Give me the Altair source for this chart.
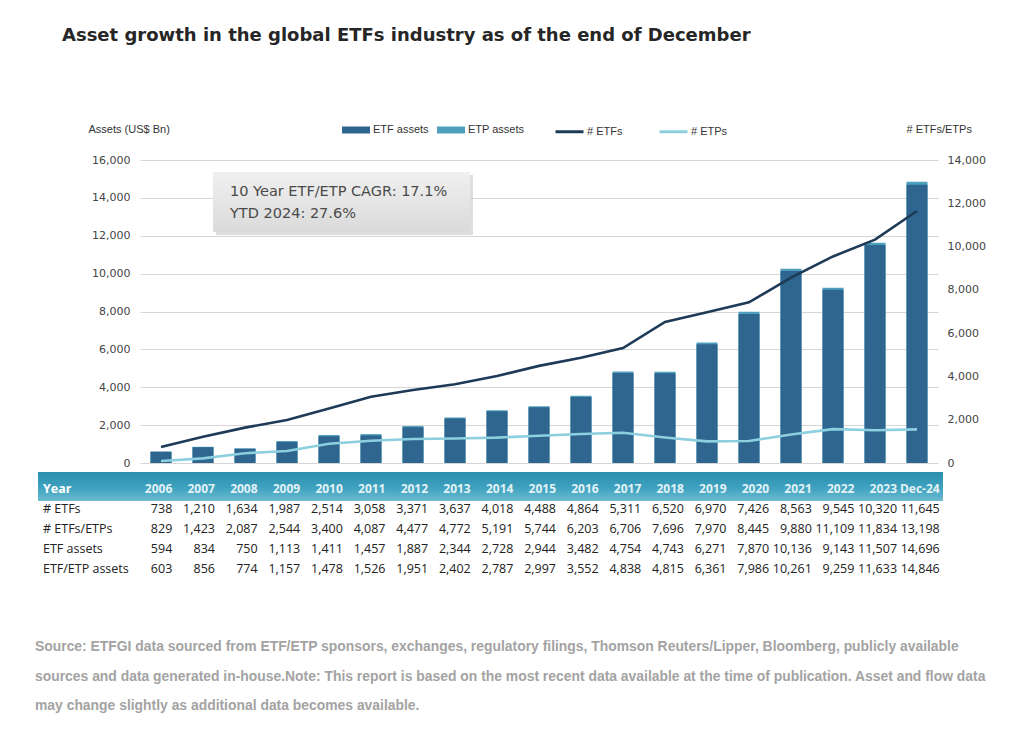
import altair as alt
import pandas as pd

years = ["2006", "2007", "2008", "2009", "2010", "2011", "2012", "2013", "2014", "2015",
         "2016", "2017", "2018", "2019", "2020", "2021", "2022", "2023", "Dec-24"]
n_etfs = [738, 1210, 1634, 1987, 2514, 3058, 3371, 3637, 4018, 4488, 4864, 5311, 6520,
          6970, 7426, 8563, 9545, 10320, 11645]
n_etfs_etps = [829, 1423, 2087, 2544, 3400, 4087, 4477, 4772, 5191, 5744, 6203, 6706,
               7696, 7970, 8445, 9880, 11109, 11834, 13198]
n_etps = [91, 213, 453, 557, 886, 1029, 1106, 1135, 1173, 1256, 1339, 1395, 1176, 1000,
          1019, 1317, 1564, 1514, 1553]
etf_assets = [594, 834, 750, 1113, 1411, 1457, 1887, 2344, 2728, 2944, 3482, 4754, 4743,
              6271, 7870, 10136, 9143, 11507, 14696]
etf_etp_assets = [603, 856, 774, 1157, 1478, 1526, 1951, 2402, 2787, 2997, 3552, 4838,
                  4815, 6361, 7986, 10261, 9259, 11633, 14846]

row_labels = ["Year", "# ETFs", "# ETFs/ETPs", "ETF assets", "ETF/ETP assets"]
annot_lines = ["10 Year ETF/ETP CAGR: 17.1%", "YTD 2024: 27.6%"]
footer = [
    "Source: ETFGI data sourced from ETF/ETP sponsors, exchanges, regulatory filings, Thomson Reuters/Lipper, Bloomberg, publicly available",
    "sources and data generated in-house.Note: This report is based on the most recent data available at the time of publication. Asset and flow data",
    "may change slightly as additional data becomes available.",
]

W, H = 798, 303
TW = 810
NARROW = "Liberation Sans Narrow, Liberation Sans, Arial"
SANS = "DejaVu Sans, Verdana"
TABLE_FONT = "Open Sans, Noto Sans, DejaVu Sans"

# ETP assets bar = full ETF/ETP total (drawn behind), ETF assets bar drawn in front
assets = pd.DataFrame({
    "Year": years * 2,
    "Series": ["ETP assets"] * len(years) + ["ETF assets"] * len(years),
    "Value": etf_etp_assets + etf_assets,
})
counts = pd.DataFrame({
    "Year": years * 2,
    "Series": ["# ETFs"] * len(years) + ["# ETPs"] * len(years),
    "Count": n_etfs + n_etps,
})

xscale = alt.Scale(domain=years, paddingInner=0.5, paddingOuter=0.25)
xenc = alt.X("Year:N", sort=years, scale=xscale, axis=None)

bar_symbol = "M-1,-0.25H1V0.25H-1Z"

color_scale = alt.Scale(domain=["ETF assets", "ETP assets"], range=["#2f668f", "#4c9fbd"])
bar_legend = alt.Legend(orient="none", legendX=202, legendY=-44, direction="horizontal",
                        title=None, symbolType=bar_symbol, symbolSize=784,
                        symbolStrokeWidth=0, labelFont=NARROW, labelFontSize=11,
                        labelColor="#333", columnPadding=8, labelOffset=3)

yleft = alt.Y("Value:Q", stack=None,
              scale=alt.Scale(domain=[0, 16000]),
              axis=alt.Axis(values=list(range(0, 16001, 2000)), format=",d", grid=True,
                            gridColor="#d6d6d6", domain=False, ticks=False,
                            labelColor="#444", labelFont=SANS, labelFontSize=11,
                            labelPadding=10, title="Assets (US$ Bn)", titleAngle=0,
                            titleAlign="left", titleBaseline="middle", titleX=-52,
                            titleY=-31, titleFont=NARROW, titleFontSize=11,
                            titleFontWeight="normal", titleColor="#333"))

bars = alt.Chart(assets).mark_bar().encode(
    x=xenc,
    y=yleft,
    color=alt.Color("Series:N", scale=color_scale, legend=bar_legend),
)

line_legend = alt.Legend(orient="none", legendX=414, legendY=-44, direction="horizontal",
                         title=None, symbolType="stroke", symbolSize=784,
                         symbolStrokeWidth=3, labelFont=NARROW, labelFontSize=11,
                         labelColor="#333", columnPadding=30, labelOffset=2)

lines = alt.Chart(counts).mark_line(strokeWidth=2.6).encode(
    x=xenc,
    y=alt.Y("Count:Q", scale=alt.Scale(domain=[0, 14000]),
            axis=alt.Axis(orient="right", values=list(range(0, 14001, 2000)), format=",d",
                          grid=False, domain=False, ticks=False, labelColor="#444",
                          labelFont=SANS, labelFontSize=11, labelPadding=9,
                          title="# ETFs/ETPs", titleAngle=0, titleAlign="left",
                          titleBaseline="middle", titleX=-32, titleY=-31,
                          titleFont=NARROW, titleFontSize=11, titleFontWeight="normal",
                          titleColor="#333")),
    stroke=alt.Stroke("Series:N", scale=alt.Scale(domain=["# ETFs", "# ETPs"],
                                                   range=["#1d3a57", "#8ccfdf"]),
                      legend=line_legend),
)

annot_shadow = alt.Chart(pd.DataFrame({"a": [0]})).mark_rect(
    fill="#c8c8c8", opacity=0.6,
).encode(x=alt.value(76), x2=alt.value(333), y=alt.value(15), y2=alt.value(75))
annot_box = alt.Chart(pd.DataFrame({"a": [0]})).mark_rect(
    fill=alt.Gradient(gradient="linear", x1=0, x2=0, y1=0, y2=1,
                      stops=[alt.GradientStop(offset=0, color="#f0f0f0"),
                             alt.GradientStop(offset=1, color="#dadada")]),
).encode(x=alt.value(73), x2=alt.value(330), y=alt.value(12), y2=alt.value(72))
annot_df = pd.DataFrame({"line": annot_lines})
annot_text1 = alt.Chart(annot_df.iloc[[0]]).mark_text(
    align="left", baseline="middle", font=SANS, fontSize=14.5, color="#4a4a4a"
).encode(text="line:N", x=alt.value(90), y=alt.value(32))
annot_text2 = alt.Chart(annot_df.iloc[[1]]).mark_text(
    align="left", baseline="middle", font=SANS, fontSize=14.5, color="#4a4a4a"
).encode(text="line:N", x=alt.value(90), y=alt.value(54))

main = alt.layer(
    bars,
    lines,
    annot_shadow,
    annot_box,
    annot_text1,
    annot_text2,
).resolve_scale(y="independent").properties(width=W, height=H)

# table
tvals = []
for i, y in enumerate(years):
    tvals.append({"Year": y, "Row": "# ETFs", "Text": f"{n_etfs[i]:,}"})
    tvals.append({"Year": y, "Row": "# ETFs/ETPs", "Text": f"{n_etfs_etps[i]:,}"})
    tvals.append({"Year": y, "Row": "ETF assets", "Text": f"{etf_assets[i]:,}"})
    tvals.append({"Year": y, "Row": "ETF/ETP assets", "Text": f"{etf_etp_assets[i]:,}"})
tdf = pd.DataFrame(tvals)
hdf = pd.DataFrame({"Year": years, "Row": ["Year"] * len(years), "Text": years})

yrow = alt.Y("Row:N", sort=row_labels, scale=alt.Scale(domain=row_labels), axis=None)
txscale = alt.X("Year:N", sort=years, scale=alt.Scale(domain=years, paddingInner=0.5,
                                                      paddingOuter=0.25), axis=None)

header_rect = alt.Chart(pd.DataFrame({"a": [0]})).mark_rect(
    fill=alt.Gradient(gradient="linear", x1=0, x2=0, y1=0, y2=1,
                      stops=[alt.GradientStop(offset=0, color="#2b8fae"),
                             alt.GradientStop(offset=0.55, color="#3ea2bf"),
                             alt.GradientStop(offset=1, color="#6dbbd0")]),
).encode(x=alt.value(-102), x2=alt.value(803), y=alt.value(-7), y2=alt.value(22))

head_label = alt.Chart(pd.DataFrame({"Row": ["Year"]})).mark_text(
    align="left", baseline="middle", font=TABLE_FONT, fontSize=12.5, fontWeight="bold",
    color="#ffffff").encode(x=alt.value(-97), y=yrow, text="Row:N")
row_text = alt.Chart(pd.DataFrame({"Row": row_labels[1:]})).mark_text(
    align="left", baseline="middle", font=TABLE_FONT, fontSize=12.5, color="#222222").encode(
    x=alt.value(-97), y=yrow, text="Row:N")
head_text = alt.Chart(hdf).mark_text(
    align="right", baseline="middle", font=TABLE_FONT, fontSize=12, fontWeight="bold",
    color="#e3f2f7", dx=11).encode(x=txscale, y=yrow, text="Text:N")
val_text = alt.Chart(tdf).mark_text(
    align="right", baseline="middle", font=TABLE_FONT, fontSize=12.5, color="#222222",
    dx=11).encode(x=txscale, y=yrow, text="Text:N")

table = alt.layer(header_rect, head_label, row_text, head_text, val_text).properties(
    width=TW, height=100,
    title=alt.TitleParams(footer, orient="bottom", anchor="start",
                          font="Liberation Sans, Arial", fontSize=13.9, fontWeight="bold",
                          color="#a3a3a3", lineHeight=29.5, offset=61, dx=-3),
)

chart = alt.vconcat(main, table, spacing=4).properties(
    title=alt.TitleParams("Asset growth in the global ETFs industry as of the end of December",
                          anchor="start", font=SANS, fontSize=18, fontWeight="bold",
                          color="#262626", offset=71, dx=27),
    padding={"left": 27, "top": 19, "right": 5, "bottom": 5},
).configure_view(stroke=None)

chart.save("out.html", embed_options={"renderer": "svg", "actions": False})
